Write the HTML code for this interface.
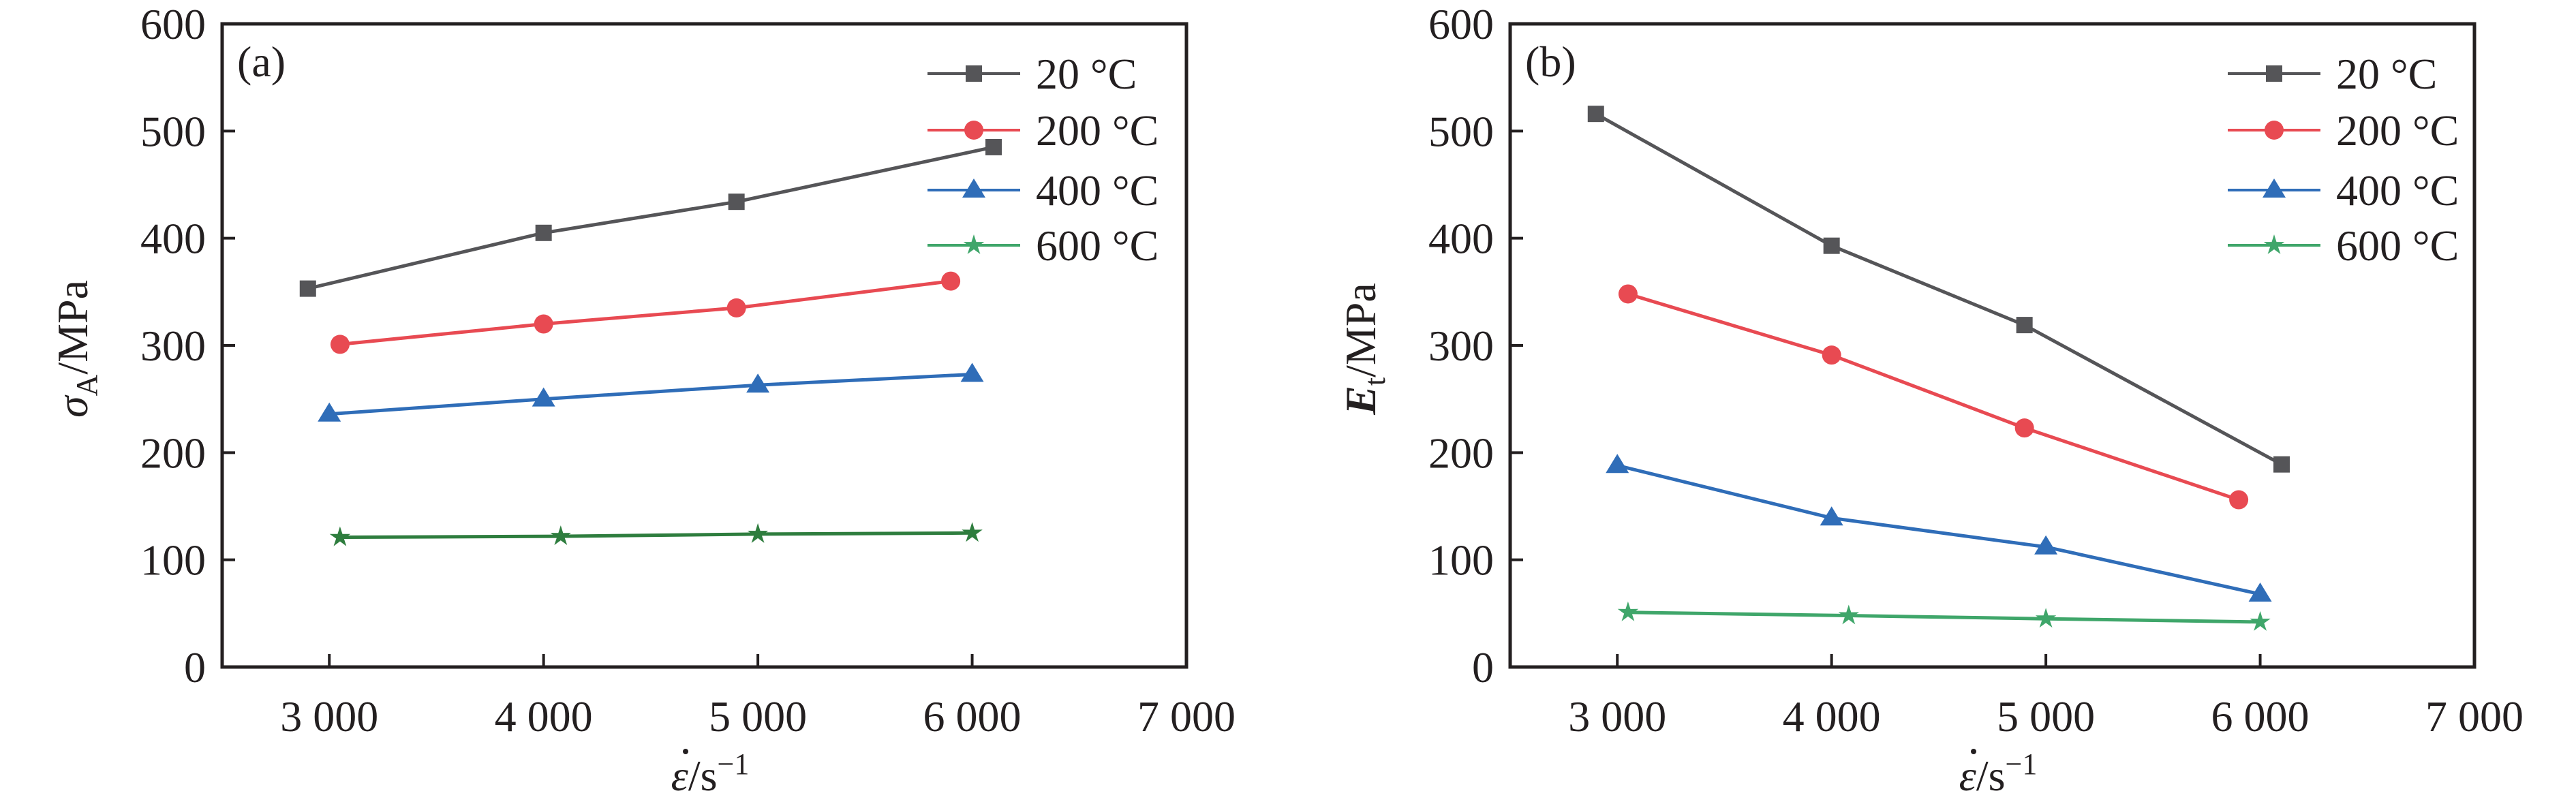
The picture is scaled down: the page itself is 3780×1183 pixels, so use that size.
<!DOCTYPE html>
<html><head><meta charset="utf-8"><style>
html,body{margin:0;padding:0;background:#fff;}
svg, svg text{font-family:"Liberation Serif","DejaVu Serif",serif;}
</style></head><body>
<svg id="chart" width="3780" height="1178" viewBox="0 0 3780 1178" xmlns="http://www.w3.org/2000/svg" font-family="Liberation Serif, serif"></svg>
<script>
const xTicks = [3000, 4000, 5000, 6000, 7000];
const xTickLabels = ["3 000", "4 000", "5 000", "6 000", "7 000"];
const yTicks = [0, 100, 200, 300, 400, 500, 600];
const seriesNames = ["20 °C", "200 °C", "400 °C", "600 °C"];
// panel a
const aX20 = [2900, 4000, 4900, 6100];   const aY20 = [353, 405, 434, 485];
const aX200 = [3050, 4000, 4900, 5900];  const aY200 = [301, 320, 335, 360];
const aX400 = [3000, 4000, 5000, 6000];  const aY400 = [236, 250, 263, 273];
const aX600 = [3050, 4080, 5000, 6000];  const aY600 = [121, 122, 124, 125];
// panel b
const bX20 = [2900, 4000, 4900, 6100];   const bY20 = [516, 393, 319, 189];
const bX200 = [3050, 4000, 4900, 5900];  const bY200 = [348, 291, 223, 156];
const bX400 = [3000, 4000, 5000, 6000];  const bY400 = [188, 139, 112, 68];
const bX600 = [3050, 4080, 5000, 6000];  const bY600 = [51, 48, 45, 42];

const NS = "http://www.w3.org/2000/svg";
const svg = document.getElementById("chart");
const FF = '"Liberation Serif", serif';
function mk(tag, attrs, parent) {
  const e = document.createElementNS(NS, tag);
  for (const k in attrs) e.setAttribute(k, attrs[k]);
  if (tag === "text") e.setAttribute("font-family", FF);
  (parent || svg).appendChild(e);
  return e;
}
const colors = ["#555558", "#e84a52", "#2f6db8", "#3fa66a"];
const shapes = ["square", "circle", "triangle", "star"];

function marker(g, shape, cx, cy, color) {
  let m;
  if (shape === "square") m = mk("rect", {x: cx - 12, y: cy - 12, width: 24, height: 24, fill: color}, g);
  else if (shape === "circle") m = mk("circle", {cx: cx, cy: cy, r: 14, fill: color}, g);
  else if (shape === "triangle") m = mk("polygon", {points: `${cx},${cy-17} ${cx+17},${cy+11} ${cx-17},${cy+11}`, fill: color}, g);
  else {
    let p = [];
    for (let i = 0; i < 10; i++) {
      const r = i % 2 ? 6 : 16, a = -Math.PI / 2 + i * Math.PI / 5;
      p.push((cx + r * Math.cos(a)).toFixed(1) + "," + (cy + r * Math.sin(a)).toFixed(1));
    }
    m = mk("polygon", {points: p.join(" "), fill: color}, g);
  }
  
  
  return m;
}

function panel(ox, letter, ylabelHTML, series, c600line, c600mark) {
  const L = ox + 326, R = ox + 1741, T = 35, B = 979;
  const sx = v => L + (v - 2500) / 4500 * (R - L);
  const sy = v => B - v / 600 * (B - T);
  const g = mk("g", {});
  
  
  xTicks.forEach((t, i) => {
    const tk = mk("line", {x1: sx(t), x2: sx(t), y1: B, y2: B - 19, stroke: "#231f20", "stroke-width": 4}, g);
    
    
    const tl = mk("text", {x: sx(t), y: B + 94, "font-size": 64, "text-anchor": "middle", fill: "#231f20"}, g);
    tl.textContent = xTickLabels[i];
    
    
  });
  yTicks.forEach(t => {
    const tk = mk("line", {x1: L, x2: L + 19, y1: sy(t), y2: sy(t), stroke: "#231f20", "stroke-width": 4}, g);
    
    
    const tl = mk("text", {x: L - 24, y: sy(t) + 22, "font-size": 64, "text-anchor": "end", fill: "#231f20"}, g);
    tl.textContent = String(t);
    
    
  });
  const frame = mk("rect", {x: L, y: T, width: R - L, height: B - T, fill: "none", stroke: "#231f20", "stroke-width": 5}, g);
  
  
  const pl = mk("text", {x: L + 22, y: T + 77, "font-size": 64, fill: "#231f20"}, g);
  pl.textContent = "(" + letter + ")";
  
  
  series.forEach((s, i) => {
    const sg = mk("g", {}, g);
    
    
    const lc = i === 3 ? c600line : colors[i];
    const mc = i === 3 ? c600mark : colors[i];
    const pts = s[0].map((x, j) => sx(x).toFixed(1) + "," + sy(s[1][j]).toFixed(1)).join(" ");
    const pln = mk("polyline", {points: pts, fill: "none", stroke: lc, "stroke-width": 5}, sg);
    
    
    s[0].forEach((x, j) => marker(sg, shapes[i], sx(x), sy(s[1][j]), mc));
  });
  const lg = mk("g", {}, g);
  
  
  const lx0 = L + 1035 + (letter === "b" ? 18 : 0);
  const rows = [108, 191, 279, 360];
  seriesNames.forEach((n, i) => {
    const eg = mk("g", {}, lg);
    
    
    mk("line", {x1: lx0, x2: lx0 + 136, y1: rows[i], y2: rows[i], stroke: colors[i], "stroke-width": 4}, eg);
    marker(eg, shapes[i], lx0 + 68, rows[i], colors[i]);
    const t = mk("text", {x: lx0 + 159, y: rows[i] + 22, "font-size": 64, fill: "#231f20"}, eg);
    t.textContent = n;
  });
  const xl = mk("text", {x: ox + 1042, y: 1160, "font-size": 64, "text-anchor": "middle", fill: "#231f20"}, g);
  xl.innerHTML = '<tspan font-style="italic">ε</tspan>/s<tspan dy="-24" font-size="44">−1</tspan>';
  
  
  const dot = mk("circle", {cx: ox + 1006, cy: 1103, r: 4, fill: "#231f20"}, g);
  
  
  const yl = mk("text", {x: 0, y: 0, "font-size": 64, "text-anchor": "middle", fill: "#231f20", transform: `translate(${ox + 128},512) rotate(-90)`}, g);
  yl.innerHTML = ylabelHTML;
  
  
}

panel(0, "a", '<tspan font-style="italic">σ</tspan><tspan dy="14" font-size="44">A</tspan><tspan dy="-14">/MPa</tspan>',
  [[aX20, aY20], [aX200, aY200], [aX400, aY400], [aX600, aY600]], "#2e7d3e", "#2e7d3e");
panel(1890, "b", '<tspan font-style="italic" font-weight="bold">E</tspan><tspan dy="14" font-size="44">t</tspan><tspan dy="-14">/MPa</tspan>',
  [[bX20, bY20], [bX200, bY200], [bX400, bY400], [bX600, bY600]], "#3fa66a", "#3fa66a");
</script>
</body></html>
